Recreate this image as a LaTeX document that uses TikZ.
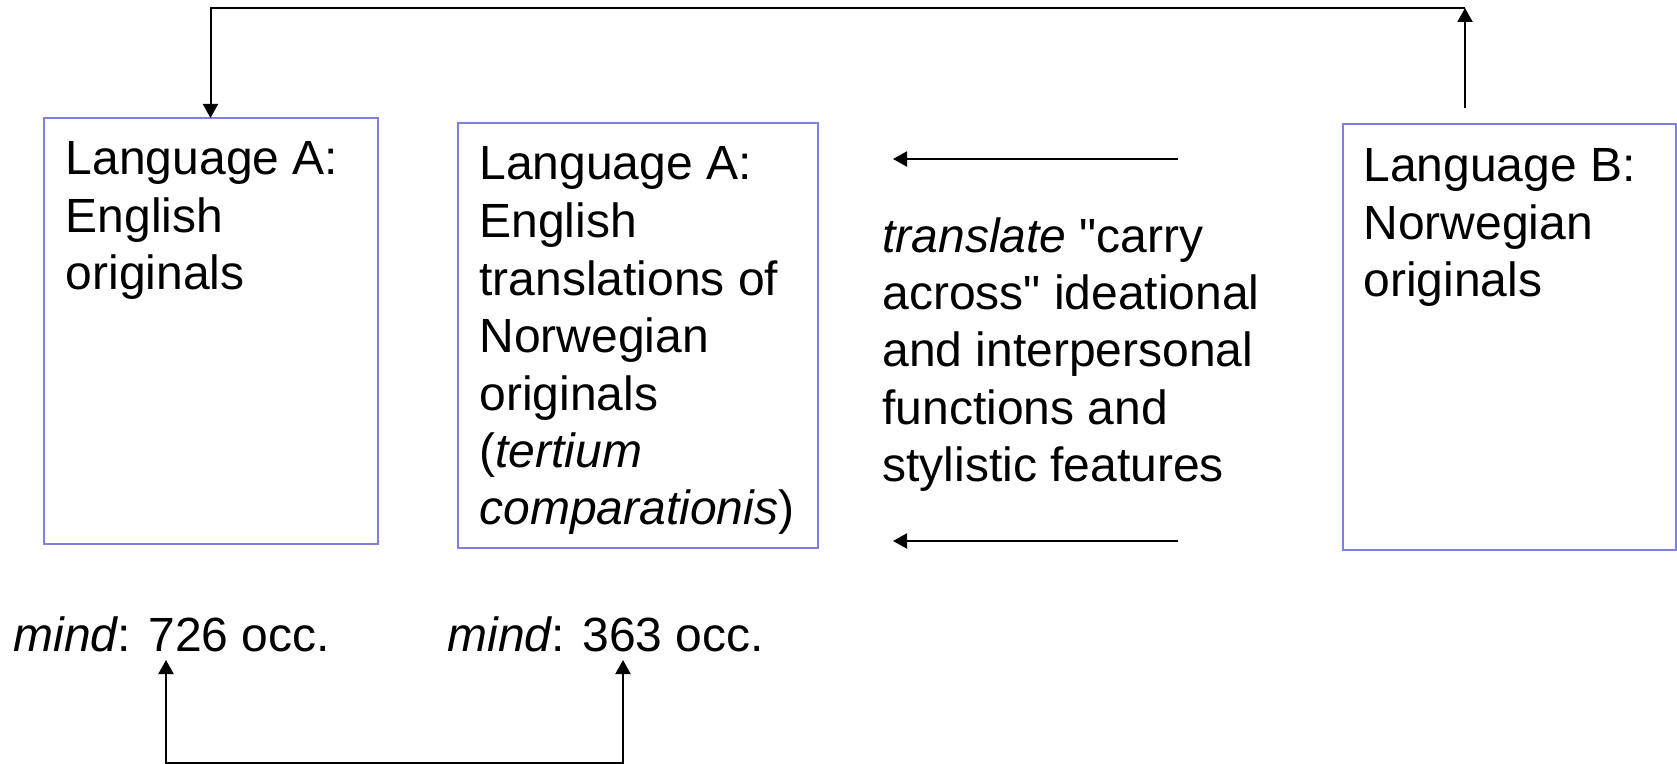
\documentclass[tikz,border=0pt]{standalone}
\usepackage{fontspec}
\setmainfont{Liberation Sans}[Ligatures=TeXOff]
\usepackage{xcolor}
\usetikzlibrary{arrows.meta,positioning}
\definecolor{boxblue}{RGB}{128,128,224}

\begin{document}
\begin{tikzpicture}[x=0.5pt, y=-0.5pt,
    langbox/.style = {draw=boxblue, line width=1pt, inner sep=0pt, outer sep=0pt, anchor=north west},
    boxtxt/.style = {inner sep=0pt, anchor=base west, align=left, font=\fontsize{24}{28.75}\selectfont},
    arr/.style = {line width=1pt, -{Triangle[length=7pt, width=7.5pt]}},
    both/.style = {line width=1pt, {Triangle[length=7pt, width=7.5pt]}-{Triangle[length=7pt, width=7.5pt]}}]
      \useasboundingbox (0,0) rectangle (1677,764);

      % the three text groups
      \node[langbox, minimum width=167pt, minimum height=213pt] (engorig) at (43.5,118) {};
      \node[langbox, minimum width=180pt, minimum height=212.5pt] (engtrans) at (458,123) {};
      \node[langbox, minimum width=166.5pt, minimum height=213pt] (norworig) at (1343,124) {};

      % base = last line
      \node[boxtxt] (engtxt) at ([shift={(22,172)}]engorig.north west) {Language A:\\English\\originals};
      \node[boxtxt] (transtxt) at ([shift={(21,402)}]engtrans.north west) {Language A:\\English\\translations of\\Norwegian\\originals\\({\itshape tertium}\\{\itshape comparationis})};
      \node[boxtxt] (norwtxt) at ([shift={(20,173)}]norworig.north west) {Language B:\\Norwegian\\originals};

      \node[boxtxt] (translate) at (882,482) {{\itshape translate} "carry\\across" ideational\\and interpersonal\\functions and\\stylistic features};

      \node[boxtxt] (mindeng) at (13,652) {{\itshape mind}: 726 occ.};
      \node[boxtxt] (mindtr) at (447,652) {{\itshape mind}: 363 occ.};

      \coordinate (toptip) at (1465,8);
      \coordinate (upfrom) at (1178,159);
      \coordinate (upto) at (893,159);
      \coordinate (lowfrom) at (1178,541);
      \coordinate (lowto) at (893,541);

      \draw[arr] (norworig.north -| toptip) ++(0,-16) -- (toptip);
      \draw[arr] (toptip) -| (engorig.north);
      \draw[arr] (upfrom) -- (upto);
      \draw[arr] (lowfrom) -- (lowto);
      \draw[both] ([shift={(153,8)}]mindeng.base west) -- ++(0,103) -| ([shift={(176,8)}]mindtr.base west);
    \end{tikzpicture}
\end{document}
